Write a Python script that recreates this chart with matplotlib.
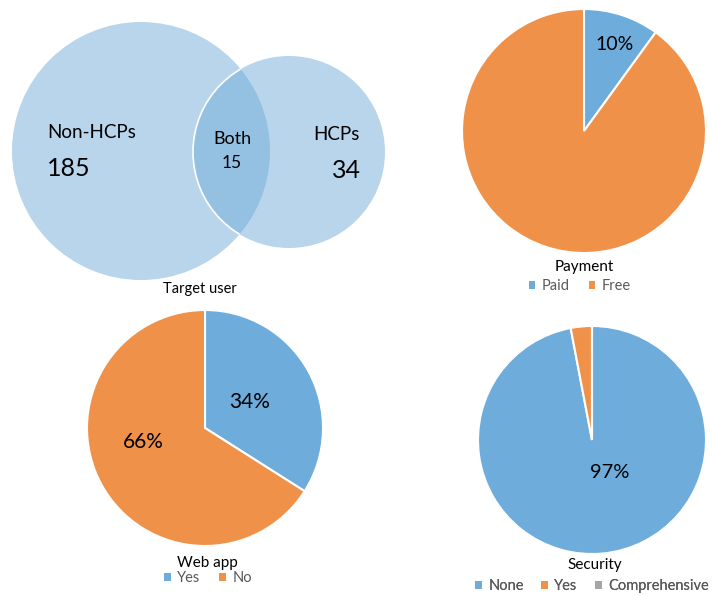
import matplotlib
matplotlib.use("Agg")
import matplotlib.pyplot as plt
from matplotlib.patches import Circle, Patch

plt.rcParams['font.family'] = ['Lato', 'DejaVu Sans']

# ---- data ----
venn_labels = ["Non-HCPs", "Both", "HCPs"]
venn_counts = [185, 15, 34]

payment_labels = ["Paid", "Free"]
payment_values = [10, 90]

webapp_labels = ["Yes", "No"]
webapp_values = [34, 66]

security_labels = ["None", "Yes", "Comprehensive"]
security_values = [97, 3, 0]

BLUE = "#6EACDC"
ORANGE = "#F0914A"
GRAY = "#A5A5A5"
VENN_FILL = "#B8D5EC"
VENN_OVERLAP = "#94C0E2"
LEGEND_TXT = "#595959"

W, H = 712, 596
fig = plt.figure(figsize=(W / 100, H / 100), dpi=100)
ax = fig.add_axes([0, 0, 1, 1])
ax.set_xlim(0, W)
ax.set_ylim(H, 0)
ax.set_aspect("equal")
ax.axis("off")

# ---- Venn diagram: target user ----
big = Circle((141, 151), 129, facecolor=VENN_FILL, edgecolor="none")
small = Circle((289, 152), 96, facecolor=VENN_FILL, edgecolor="none")
ax.add_patch(big)
ax.add_patch(small)
overlap = Circle((289, 152), 96, facecolor=VENN_OVERLAP, edgecolor="none")
ax.add_patch(overlap)
overlap.set_clip_path(big)
rim = Circle((289, 152), 96, facecolor="none", edgecolor="white", linewidth=1.2)
ax.add_patch(rim)
rim.set_clip_path(big)

ax.text(47, 133, venn_labels[0], fontsize=13.5, ha="left", va="center")
ax.text(47, 168, str(venn_counts[0]), fontsize=18, ha="left", va="center")
ax.text(232, 139, venn_labels[1], fontsize=13, ha="center", va="center")
ax.text(232, 163, str(venn_counts[1]), fontsize=12.5, ha="center", va="center")
ax.text(336, 135, venn_labels[2], fontsize=13.5, ha="center", va="center")
ax.text(346, 171, str(venn_counts[2]), fontsize=18, ha="center", va="center")
ax.text(200, 289, "Target user", fontsize=10.5, ha="center", va="center")

wedge_style = dict(edgecolor="white", linewidth=1.5)


def draw_pie(values, colors, center, radius):
    ax.pie(values, colors=colors, center=center, radius=radius,
           startangle=-90, counterclock=True, wedgeprops=wedge_style,
           normalize=True, frame=True)


def add_legend(labels, colors, anchor, spacing=1.3):
    handles = [Patch(facecolor=c, edgecolor="none") for c in colors]
    leg = ax.legend(handles, labels, loc="center", bbox_to_anchor=anchor,
                    bbox_transform=ax.transData, ncol=len(labels),
                    frameon=False, fontsize=10.5, handlelength=0.45,
                    handleheight=0.45, handletextpad=0.45,
                    columnspacing=spacing, borderpad=0, labelcolor=LEGEND_TXT)
    ax.add_artist(leg)


# ---- Payment ----
draw_pie(payment_values, [BLUE, ORANGE], (584, 131), 122)
ax.text(615, 45, f"{payment_values[0]}%", fontsize=14, ha="center", va="center")
ax.text(584, 267, "Payment", fontsize=11, ha="center", va="center")
add_legend(payment_labels, [BLUE, ORANGE], (580, 286), spacing=1.3)

# ---- Web app ----
draw_pie(webapp_values, [BLUE, ORANGE], (205, 428), 118)
ax.text(250, 402, f"{webapp_values[0]}%", fontsize=15, ha="center", va="center")
ax.text(143, 442, f"{webapp_values[1]}%", fontsize=15, ha="center", va="center")
ax.text(207, 563, "Web app", fontsize=11, ha="center", va="center")
add_legend(webapp_labels, [BLUE, ORANGE], (208, 578), spacing=1.3)

# ---- Security ----
draw_pie(security_values, [BLUE, ORANGE, GRAY], (592, 440), 114)
ax.text(610, 473, f"{security_values[0]}%", fontsize=14.5, ha="center", va="center")
ax.text(595, 565, "Security", fontsize=11, ha="center", va="center")
add_legend(security_labels, [BLUE, ORANGE, GRAY], (592, 586), spacing=1.2)

ax.set_xlim(0, W)
ax.set_ylim(H, 0)
ax.axis("off")

fig.savefig("out.png", dpi=100)
